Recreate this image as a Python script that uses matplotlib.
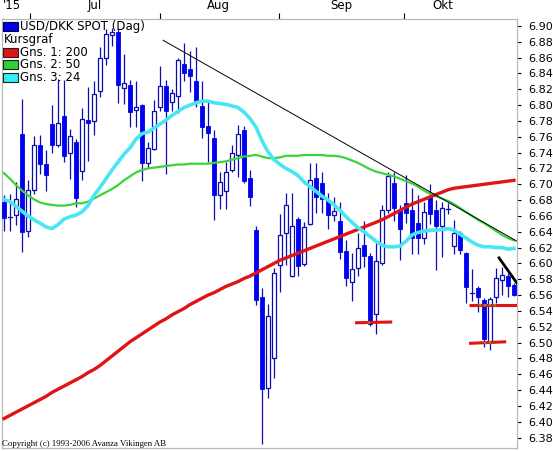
import matplotlib
matplotlib.use("Agg")
import matplotlib.pyplot as plt
from matplotlib.patches import Rectangle
import numpy as np

# ---------------- data ----------------
opens = [6.677, 6.659, 6.661, 6.763, 6.641, 6.693, 6.749, 6.725, 6.776, 6.750,
         6.786, 6.739, 6.754, 6.717, 6.781, 6.780, 6.818, 6.860, 6.888, 6.892,
         6.822, 6.826, 6.794, 6.800, 6.727, 6.745, 6.797, 6.824, 6.804, 6.812,
         6.852, 6.845, 6.830, 6.799, 6.773, 6.758, 6.687, 6.692, 6.718, 6.737,
         6.768, 6.708, 6.642, 6.558, 6.443, 6.480, 6.598, 6.638, 6.584, 6.656,
         6.599, 6.650, 6.708, 6.702, 6.680, 6.661, 6.654, 6.616, 6.577, 6.594,
         6.623, 6.609, 6.536, 6.600, 6.667, 6.701, 6.668, 6.676, 6.668, 6.651,
         6.632, 6.684, 6.668, 6.647, 6.669, 6.622, 6.639, 6.613, 6.562, 6.569,
         6.554, 6.501, 6.557, 6.579, 6.584, 6.573]
highs = [6.686, 6.688, 6.703, 6.808, 6.705, 6.761, 6.762, 6.743, 6.800, 6.833,
         6.832, 6.770, 6.757, 6.796, 6.823, 6.830, 6.874, 6.896, 6.898, 6.897,
         6.865, 6.832, 6.830, 6.802, 6.754, 6.806, 6.849, 6.832, 6.820, 6.860,
         6.878, 6.868, 6.874, 6.830, 6.804, 6.768, 6.716, 6.728, 6.749, 6.775,
         6.773, 6.718, 6.647, 6.569, 6.549, 6.594, 6.662, 6.689, 6.689, 6.659,
         6.652, 6.727, 6.727, 6.716, 6.689, 6.684, 6.678, 6.630, 6.613, 6.639,
         6.653, 6.613, 6.626, 6.674, 6.715, 6.715, 6.674, 6.712, 6.695, 6.686,
         6.678, 6.700, 6.680, 6.678, 6.676, 6.655, 6.641, 6.614, 6.593, 6.571,
         6.556, 6.558, 6.594, 6.596, 6.588, 6.575]
lows = [6.641, 6.641, 6.648, 6.615, 6.634, 6.688, 6.713, 6.692, 6.740, 6.747,
        6.728, 6.707, 6.671, 6.706, 6.730, 6.762, 6.810, 6.851, 6.875, 6.803,
        6.802, 6.772, 6.772, 6.704, 6.720, 6.743, 6.792, 6.713, 6.792, 6.790,
        6.830, 6.817, 6.798, 6.758, 6.728, 6.655, 6.669, 6.669, 6.716, 6.709,
        6.701, 6.672, 6.548, 6.372, 6.430, 6.455, 6.564, 6.598, 6.583, 6.584,
        6.597, 6.649, 6.664, 6.664, 6.644, 6.653, 6.605, 6.572, 6.553, 6.584,
        6.596, 6.521, 6.511, 6.598, 6.664, 6.653, 6.604, 6.651, 6.612, 6.612,
        6.625, 6.650, 6.592, 6.608, 6.662, 6.612, 6.612, 6.550, 6.552, 6.538,
        6.494, 6.490, 6.550, 6.560, 6.558, 6.559]
closes = [6.657, 6.659, 6.682, 6.640, 6.693, 6.750, 6.725, 6.712, 6.749, 6.778,
          6.736, 6.761, 6.683, 6.783, 6.778, 6.814, 6.860, 6.890, 6.892, 6.825,
          6.828, 6.791, 6.797, 6.727, 6.746, 6.792, 6.824, 6.793, 6.815, 6.857,
          6.841, 6.837, 6.805, 6.772, 6.765, 6.687, 6.703, 6.716, 6.739, 6.764,
          6.704, 6.684, 6.554, 6.441, 6.534, 6.588, 6.636, 6.674, 6.647, 6.597,
          6.646, 6.706, 6.684, 6.681, 6.661, 6.666, 6.614, 6.581, 6.593, 6.620,
          6.609, 6.524, 6.603, 6.667, 6.710, 6.670, 6.644, 6.664, 6.632, 6.632,
          6.665, 6.663, 6.647, 6.670, 6.669, 6.639, 6.617, 6.570, 6.562, 6.558,
          6.504, 6.555, 6.581, 6.586, 6.571, 6.560]

ma200 = [6.404, 6.408, 6.412, 6.416, 6.420, 6.424, 6.428, 6.432, 6.437, 6.441,
         6.445, 6.449, 6.453, 6.457, 6.462, 6.466, 6.471, 6.477, 6.483, 6.489,
         6.495, 6.501, 6.506, 6.511, 6.516, 6.521, 6.526, 6.530, 6.535, 6.539,
         6.543, 6.548, 6.552, 6.556, 6.560, 6.563, 6.567, 6.571, 6.574, 6.577,
         6.581, 6.584, 6.588, 6.592, 6.596, 6.600, 6.604, 6.607, 6.610, 6.613,
         6.616, 6.619, 6.622, 6.625, 6.628, 6.631, 6.634, 6.637, 6.640, 6.643,
         6.646, 6.649, 6.652, 6.655, 6.659, 6.663, 6.667, 6.671, 6.675, 6.678,
         6.681, 6.684, 6.687, 6.690, 6.693, 6.695, 6.696, 6.697, 6.698, 6.699,
         6.700, 6.701, 6.702, 6.703, 6.704, 6.705]
ma50 = [6.714, 6.707, 6.699, 6.692, 6.686, 6.681, 6.677, 6.675, 6.674, 6.673,
        6.673, 6.674, 6.676, 6.676, 6.678, 6.682, 6.686, 6.690, 6.694, 6.699,
        6.705, 6.710, 6.715, 6.718, 6.720, 6.721, 6.722, 6.723, 6.724, 6.725,
        6.725, 6.726, 6.726, 6.726, 6.726, 6.727, 6.728, 6.729, 6.731, 6.733,
        6.735, 6.736, 6.737, 6.735, 6.733, 6.733, 6.734, 6.736, 6.736, 6.736,
        6.737, 6.737, 6.737, 6.737, 6.736, 6.736, 6.735, 6.733, 6.730, 6.727,
        6.723, 6.719, 6.716, 6.714, 6.712, 6.710, 6.707, 6.704, 6.701, 6.697,
        6.692, 6.688, 6.685, 6.682, 6.679, 6.675, 6.670, 6.665, 6.660, 6.655,
        6.651, 6.646, 6.641, 6.636, 6.632, 6.629]
ma24 = [6.681, 6.678, 6.672, 6.666, 6.660, 6.655, 6.651, 6.646, 6.644, 6.649,
        6.656, 6.659, 6.661, 6.665, 6.673, 6.686, 6.696, 6.707, 6.718, 6.728,
        6.738, 6.746, 6.757, 6.764, 6.766, 6.771, 6.776, 6.781, 6.787, 6.792,
        6.797, 6.800, 6.803, 6.805, 6.805, 6.803, 6.802, 6.801, 6.799, 6.797,
        6.791, 6.783, 6.772, 6.755, 6.741, 6.731, 6.725, 6.720, 6.716, 6.711,
        6.703, 6.697, 6.691, 6.685, 6.680, 6.674, 6.667, 6.659, 6.652, 6.645,
        6.640, 6.634, 6.628, 6.623, 6.621, 6.621, 6.622, 6.628, 6.636, 6.639,
        6.641, 6.642, 6.642, 6.643, 6.644, 6.642, 6.637, 6.632, 6.627, 6.623,
        6.621, 6.621, 6.620, 6.620, 6.618, 6.619]

# drawn trend / support lines: (start index, start value, end index, end value)
trend_thin = [26.5, 6.882, 85.5, 6.628]
trend_thick = [82.5, 6.607, 85.5, 6.575]
supports = [[58.5, 6.525, 64.7, 6.526],
            [77.5, 6.548, 85.5, 6.548],
            [77.5, 6.499, 83.7, 6.501]]
# olive dotted stretches on the support lines (start index, end index)
support_marks = [[60.6, 61.4], [79.2, 82.2], [80.0, 81.6]]

month_labels = ["'15", "Jul", "Aug", "Sep", "Okt"]
month_label_pos = [1.4, 15.2, 35.7, 56.3, 73.2]
month_bounds = [4.33, 26.0, 45.83, 66.67]

legend_title = "USD/DKK SPOT (Dag)"
legend_sub = "Kursgraf"
ma_names = ["Gns. 1: 200", "Gns. 2: 50", "Gns. 3: 24"]
copyright_txt = "Copyright (c) 1993-2006 Avanza Vikingen AB"

# ---------------- figure ----------------
W, H = 553, 451
fig = plt.figure(figsize=(W / 100, H / 100), dpi=100)
ax = fig.add_axes([2 / W, 1 - 448 / H, 515 / W, 429 / H])
ax.set_xlim(-0.333, 85.5)
ax.set_ylim(6.3668, 6.9088)

FILL = "#0000f0"
EDGE = "#0c0cb0"
bw = 0.68
for i in range(len(opens)):
    o, h, l, c = opens[i], highs[i], lows[i], closes[i]
    ax.plot([i, i], [l, h], color=EDGE, lw=0.9, zorder=2, solid_capstyle="butt")
    lo, hi = min(o, c), max(o, c)
    if abs(c - o) < 0.0015:
        ax.plot([i - bw / 2, i + bw / 2], [c, c], color=EDGE, lw=0.9, zorder=3)
    elif c < o:
        ax.add_patch(Rectangle((i - bw / 2, lo), bw, hi - lo, facecolor=FILL,
                               edgecolor=FILL, lw=0.6, zorder=3))
    else:
        ax.add_patch(Rectangle((i - bw / 2, lo), bw, hi - lo, facecolor="white",
                               edgecolor=EDGE, lw=0.9, zorder=3))

x = np.arange(len(opens))
ax.plot(x, ma50, color="#3ad43a", lw=1.6, zorder=4)
ax.plot(x, ma200, color="#e01414", lw=2.4, zorder=5)
ax.plot(x, ma24, color="#48e6f4", lw=2.6, zorder=6)

ax.plot([trend_thin[0], trend_thin[2]], [trend_thin[1], trend_thin[3]],
        color="black", lw=0.7, zorder=7)
ax.plot([trend_thick[0], trend_thick[2]], [trend_thick[1], trend_thick[3]],
        color="black", lw=2.0, zorder=7)
for s, m in zip(supports, support_marks):
    ax.plot([s[0], s[2]], [s[1], s[3]], color="#e01414", lw=2.2, zorder=7,
            solid_capstyle="butt")
    t0 = (m[0] - s[0]) / (s[2] - s[0])
    t1 = (m[1] - s[0]) / (s[2] - s[0])
    ax.plot([m[0], m[1]], [s[1] + t0 * (s[3] - s[1]), s[1] + t1 * (s[3] - s[1])],
            color="#7a9a30", lw=1.6, ls=(0, (1, 1.2)), zorder=8)

# axes styling
for sp in ax.spines.values():
    sp.set_color("#b8b8b8")
    sp.set_linewidth(0.9)

ax.yaxis.tick_right()
yt = np.round(np.arange(6.38, 6.9001, 0.02), 2)
ax.set_yticks(yt)
ax.set_yticklabels([f"{v:.2f}" for v in yt])
ax.tick_params(axis="y", direction="out", length=3, width=0.8, pad=5,
               labelsize=8, colors="black")

ax.xaxis.tick_top()
ax.set_xticks(month_bounds)
ax.set_xticklabels([])
ax.set_xticks(month_label_pos, minor=True)
ax.set_xticklabels(month_labels, minor=True)
ax.tick_params(axis="x", which="major", direction="out", length=4, width=0.8)
ax.tick_params(axis="x", which="minor", length=0, pad=5, labelsize=8.5)

# legend (manual)
def fx(px):
    return px / W

def fy(py):
    return 1 - py / H

leg_colors = ["#e01414", "#30d030", "#30eef4"]
fig.patches.append(Rectangle((fx(3), fy(31)), 15 / W, 9 / H, transform=fig.transFigure,
                             facecolor="#0000e8", edgecolor="#000050", lw=0.8, zorder=5))
fig.text(fx(20), fy(26.5), legend_title, fontsize=8.5, va="center", ha="left", zorder=6)
fig.text(fx(4), fy(39.5), legend_sub, fontsize=8.5, va="center", ha="left", zorder=6)
for k, (name, col) in enumerate(zip(ma_names, leg_colors)):
    yc = 52 + 12.8 * k
    fig.patches.append(Rectangle((fx(3), fy(yc + 4.5)), 15 / W, 9 / H,
                                 transform=fig.transFigure, facecolor=col,
                                 edgecolor="#202020", lw=0.8, zorder=5))
    fig.text(fx(20), fy(yc), name, fontsize=8.5, va="center", ha="left", zorder=6)

fig.text(fx(2), fy(443.5), copyright_txt, fontsize=6.3, family="Liberation Serif",
         va="center", ha="left", zorder=6)

fig.savefig("out.png", dpi=100)
